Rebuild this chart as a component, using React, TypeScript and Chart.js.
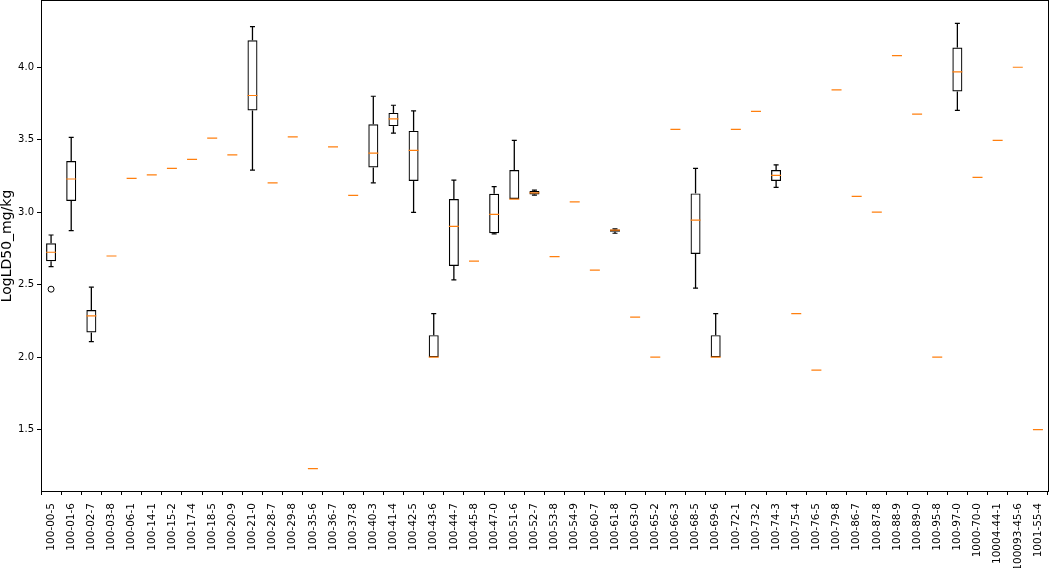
import { useEffect, useRef } from 'react';
import { Chart, registerables } from 'chart.js';

Chart.register(...registerables);

const categories = [
  '100-00-5', '100-01-6', '100-02-7', '100-03-8', '100-06-1', '100-14-1', '100-15-2', '100-17-4', '100-18-5', '100-20-9',
  '100-21-0', '100-28-7', '100-29-8', '100-35-6', '100-36-7', '100-37-8', '100-40-3', '100-41-4', '100-42-5', '100-43-6',
  '100-44-7', '100-45-8', '100-47-0', '100-51-6', '100-52-7', '100-53-8', '100-54-9', '100-60-7', '100-61-8', '100-63-0',
  '100-65-2', '100-66-3', '100-68-5', '100-69-6', '100-72-1', '100-73-2', '100-74-3', '100-75-4', '100-76-5', '100-79-8',
  '100-86-7', '100-87-8', '100-88-9', '100-89-0', '100-95-8', '100-97-0', '1000-70-0', '10004-44-1', '100093-45-6', '1001-55-4',
];

const whiskerLow = [
  2.625, 2.873, 2.108, 2.698, 3.233, 3.258, 3.302, 3.364, 3.511, 3.396,
  3.291, 3.203, 3.520, 1.231, 3.451, 3.116, 3.203, 3.545, 2.999, 2.000,
  2.533, 2.662, 2.850, 3.091, 3.118, 2.694, 3.072, 2.600, 2.855, 2.276,
  2.000, 3.571, 2.476, 2.000, 3.571, 3.695, 3.171, 2.301, 1.911, 3.844,
  3.109, 3.000, 4.080, 3.676, 2.000, 3.702, 3.240, 3.495, 4.000, 1.500,
];
const q1 = [
  2.662, 3.077, 2.170, 2.698, 3.233, 3.258, 3.302, 3.364, 3.511, 3.396,
  3.702, 3.203, 3.520, 1.231, 3.451, 3.116, 3.309, 3.594, 3.215, 2.000,
  2.629, 2.662, 2.855, 3.091, 3.122, 2.694, 3.072, 2.600, 2.866, 2.276,
  2.000, 3.571, 2.712, 2.000, 3.571, 3.695, 3.215, 2.301, 1.911, 3.844,
  3.109, 3.000, 4.080, 3.676, 2.000, 3.833, 3.240, 3.495, 4.000, 1.500,
];
const median = [
  2.724, 3.229, 2.285, 2.698, 3.233, 3.258, 3.302, 3.364, 3.511, 3.396,
  3.805, 3.203, 3.520, 1.231, 3.451, 3.116, 3.408, 3.644, 3.426, 2.000,
  2.903, 2.662, 2.985, 3.091, 3.134, 2.694, 3.072, 2.600, 2.877, 2.276,
  2.000, 3.571, 2.946, 2.000, 3.571, 3.695, 3.254, 2.301, 1.911, 3.844,
  3.109, 3.000, 4.080, 3.676, 2.000, 3.968, 3.240, 3.495, 4.000, 1.500,
];
const q3 = [
  2.786, 3.353, 2.326, 2.698, 3.233, 3.258, 3.302, 3.364, 3.511, 3.396,
  4.186, 3.203, 3.520, 1.231, 3.451, 3.116, 3.607, 3.685, 3.561, 2.152,
  3.091, 2.662, 3.127, 3.291, 3.146, 2.694, 3.072, 2.600, 2.880, 2.276,
  2.000, 3.571, 3.130, 2.152, 3.571, 3.695, 3.291, 2.301, 1.911, 3.844,
  3.109, 3.000, 4.080, 3.676, 2.000, 4.136, 3.240, 3.495, 4.000, 1.500,
];
const whiskerHigh = [
  2.843, 3.516, 2.483, 2.698, 3.233, 3.258, 3.302, 3.364, 3.511, 3.396,
  4.280, 3.203, 3.520, 1.231, 3.451, 3.116, 3.800, 3.738, 3.699, 2.301,
  3.222, 2.662, 3.176, 3.495, 3.152, 2.694, 3.072, 2.600, 2.885, 2.276,
  2.000, 3.571, 3.302, 2.301, 3.571, 3.695, 3.327, 2.301, 1.911, 3.844,
  3.109, 3.000, 4.080, 3.676, 2.000, 4.303, 3.240, 3.495, 4.000, 1.500,
];

const fliers = [{ x: '100-00-5', y: 2.469 }];

const yTicks = [1.5, 2.0, 2.5, 3.0, 3.5, 4.0];
const yMin = 1.077;
const yMax = 4.457;

const FONT = "'DejaVu Sans', sans-serif";

const framePlugin = {
  id: 'frame',
  afterDraw(chart: any) {
    const { ctx, chartArea } = chart;
    const l = Math.floor(chartArea.left) + 0.5;
    const t = Math.floor(chartArea.top) - 0.5;
    const r = Math.floor(chartArea.right) + 0.5;
    const b = Math.floor(chartArea.bottom) + 0.5;
    ctx.save();
    ctx.strokeStyle = '#000';
    ctx.lineWidth = 1;
    ctx.strokeRect(l, t, r - l, b - t);
    ctx.restore();
  },
};

export default function App() {
  const ref = useRef<HTMLCanvasElement | null>(null);

  useEffect(() => {
    if (!ref.current) return;
    // caps are hidden where the whisker has zero length
    const lowCaps = categories.map((_, i) => (whiskerLow[i] < q1[i] ? whiskerLow[i] : null));
    const highCaps = categories.map((_, i) => (whiskerHigh[i] > q3[i] ? whiskerHigh[i] : null));
    const chart = new Chart(ref.current, {
      type: 'bar',
      data: {
        labels: categories,
        datasets: [
          {
            type: 'bar',
            label: 'box',
            data: categories.map((_, i) => [q1[i], q3[i]]),
            backgroundColor: 'rgba(0,0,0,0)',
            borderColor: '#000',
            borderWidth: 1.2,
            borderSkipped: false,
            inflateAmount: 0,
            barThickness: 10,
            grouped: false,
            order: 3,
          } as any,
          {
            type: 'bar',
            label: 'lower whisker',
            data: categories.map((_, i) => [whiskerLow[i], q1[i]]),
            backgroundColor: '#000',
            borderWidth: 0,
            inflateAmount: 0,
            barThickness: 1.3,
            grouped: false,
            order: 4,
          } as any,
          {
            type: 'bar',
            label: 'upper whisker',
            data: categories.map((_, i) => [q3[i], whiskerHigh[i]]),
            backgroundColor: '#000',
            borderWidth: 0,
            inflateAmount: 0,
            barThickness: 1.3,
            grouped: false,
            order: 4,
          } as any,
          {
            type: 'line',
            label: 'low cap',
            data: lowCaps,
            showLine: false,
            pointStyle: 'line',
            pointRadius: 2.5,
            pointBorderColor: '#000',
            pointBorderWidth: 1.2,
            order: 2,
          } as any,
          {
            type: 'line',
            label: 'high cap',
            data: highCaps,
            showLine: false,
            pointStyle: 'line',
            pointRadius: 2.5,
            pointBorderColor: '#000',
            pointBorderWidth: 1.2,
            order: 2,
          } as any,
          {
            type: 'line',
            label: 'median',
            data: median,
            showLine: false,
            pointStyle: 'line',
            pointRadius: 5,
            pointBorderColor: '#ff7f0e',
            pointBorderWidth: 1.2,
            order: 1,
          } as any,
          {
            type: 'line',
            label: 'fliers',
            data: fliers,
            showLine: false,
            pointStyle: 'circle',
            pointRadius: 3,
            pointBackgroundColor: 'rgba(0,0,0,0)',
            pointBorderColor: '#000',
            pointBorderWidth: 1,
            order: 1,
          } as any,
        ],
      },
      options: {
        animation: false,
        responsive: false,
        maintainAspectRatio: false,
        events: [],
        layout: { autoPadding: false, padding: { top: 1, right: 2, left: 0, bottom: 0 } },
        plugins: {
          legend: { display: false },
          tooltip: { enabled: false },
        },
        scales: {
          x: {
            type: 'category',
            offset: true,
            border: { display: false },
            grid: { display: true, drawOnChartArea: false, drawTicks: true, tickLength: 4, color: '#000' },
            ticks: {
              autoSkip: false,
              minRotation: 90,
              maxRotation: 90,
              padding: 8,
              color: '#000',
              font: { family: FONT, size: 10.5 },
            },
            afterFit: (scale: any) => {
              scale.height = 77;
              scale.paddingLeft = 0;
              scale.paddingRight = 0;
            },
          },
          y: {
            type: 'linear',
            min: yMin,
            max: yMax,
            border: { display: false },
            grid: { display: true, drawOnChartArea: false, drawTicks: true, tickLength: 4, color: '#000' },
            afterBuildTicks: (scale: any) => {
              scale.ticks = yTicks.map((v) => ({ value: v }));
            },
            ticks: {
              padding: 3,
              color: '#000',
              font: { family: FONT, size: 10 },
              callback: (v: any) => Number(v).toFixed(1),
            },
            title: {
              display: true,
              text: 'LogLD50_mg/kg',
              color: '#000',
              font: { family: FONT, size: 14, lineHeight: 1 },
              padding: 0,
            },
            afterFit: (scale: any) => {
              scale.width = 41;
              scale.paddingTop = 0;
              scale.paddingBottom = 0;
            },
          },
        },
      },
      plugins: [framePlugin],
    });
    return () => chart.destroy();
  }, []);

  return (
    <div style={{ position: 'absolute', left: 0, top: 0, width: 1050, height: 568, background: '#fff' }}>
      <canvas ref={ref} width={1050} height={568} style={{ width: 1050, height: 568 }} />
    </div>
  );
}
